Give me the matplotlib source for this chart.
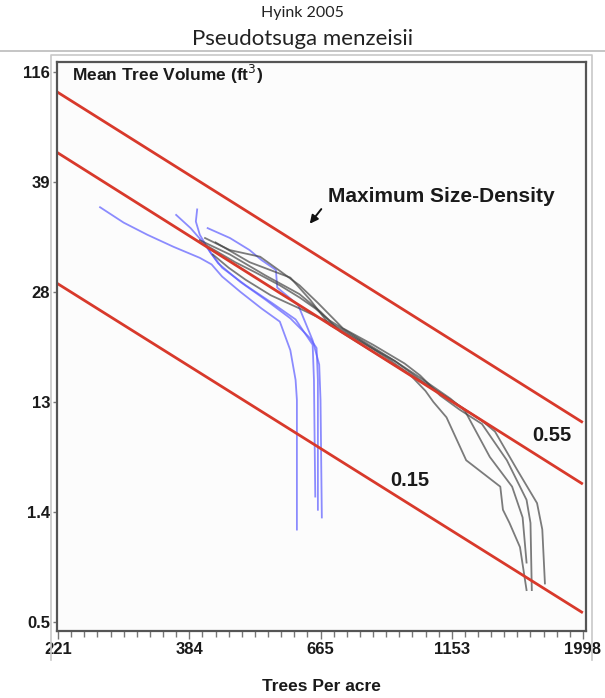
import numpy as np
import matplotlib.pyplot as plt
from matplotlib.lines import Line2D

#------------------------------------------------------------------------------
# Data (x = tick index of trees per acre, y = tick index of mean tree volume)
#------------------------------------------------------------------------------

x_tick_labels = ['221', '384', '665', '1153', '1998']
y_tick_labels = ['0.5', '1.4', '13', '28', '39', '116']

# reference lines (relative density), value at left edge and at 1998
red_x = [-0.01, 3.99]
red_max = [4.82, 1.82]
red_055 = [4.27, 1.26]
red_015 = [3.08, 0.09]

# blue stands
blue1_x = [0.32, 0.50, 0.68, 0.88, 1.08, 1.17, 1.25, 1.39, 1.55, 1.69, 1.77, 1.81, 1.82, 1.82]
blue1_y = [3.77, 3.63, 3.52, 3.41, 3.31, 3.25, 3.14, 3.00, 2.85, 2.73, 2.47, 2.20, 2.02, 0.84]
blue2_x = [0.90, 1.01, 1.12, 1.22, 1.39, 1.58, 1.77, 1.92, 1.97, 1.98, 1.98]
blue2_y = [3.70, 3.58, 3.43, 3.26, 3.09, 2.93, 2.76, 2.58, 2.49, 2.20, 1.02]
blue3_x = [1.06, 1.05, 1.08, 1.16, 1.25, 1.43, 1.63, 1.81, 1.94, 1.95, 1.96]
blue3_y = [3.75, 3.64, 3.52, 3.36, 3.22, 3.06, 2.90, 2.75, 2.52, 2.20, 1.14]
blue4_x = [1.14, 1.31, 1.46, 1.55, 1.66, 1.67, 1.83, 1.94, 1.99, 2.00, 2.01]
blue4_y = [3.58, 3.49, 3.38, 3.29, 3.20, 3.04, 2.88, 2.56, 2.34, 2.02, 0.95]

# gray stands
gray1_x = [1.18, 1.30, 1.43, 1.62, 1.84, 2.07, 2.30, 2.53, 2.68, 2.80, 2.86, 2.96, 3.11, 3.37, 3.39, 3.44, 3.52, 3.57]
gray1_y = [3.34, 3.22, 3.11, 2.97, 2.85, 2.72, 2.56, 2.38, 2.25, 2.10, 2.00, 1.86, 1.47, 1.23, 1.02, 0.90, 0.68, 0.29]
gray2_x = [1.12, 1.35, 1.50, 1.69, 1.84, 1.96, 2.07, 2.30, 2.53, 2.76, 2.99, 3.10, 3.29, 3.46, 3.54, 3.57]
gray2_y = [3.43, 3.27, 3.18, 3.06, 2.95, 2.85, 2.74, 2.57, 2.40, 2.22, 2.03, 1.92, 1.50, 1.23, 0.95, 0.54]
gray3_x = [1.12, 1.31, 1.54, 1.68, 1.84, 1.98, 2.17, 2.40, 2.64, 2.76, 2.91, 3.06, 3.23, 3.42, 3.57, 3.60, 3.61]
gray3_y = [3.49, 3.38, 3.32, 3.20, 3.06, 2.90, 2.67, 2.52, 2.35, 2.24, 2.06, 1.93, 1.80, 1.47, 1.11, 0.90, 0.29]
gray4_x = [1.08, 1.31, 1.58, 1.84, 2.00, 2.15, 2.38, 2.61, 2.83, 3.06, 3.22, 3.33, 3.50, 3.65, 3.69, 3.71]
gray4_y = [3.47, 3.34, 3.15, 2.98, 2.82, 2.64, 2.47, 2.30, 2.14, 1.96, 1.84, 1.73, 1.38, 1.08, 0.84, 0.35]
gray5_x = [1.20, 1.46, 1.77, 1.92, 2.07, 2.30, 2.57, 2.76, 2.99, 3.14, 3.29]
gray5_y = [3.45, 3.27, 3.13, 2.93, 2.70, 2.55, 2.37, 2.20, 2.02, 1.90, 1.78]

#------------------------------------------------------------------------------
# Figure
#------------------------------------------------------------------------------

fig = plt.figure(figsize=(6.05, 6.98), dpi=100)
W, H = 605.0, 698.0

def fx(px):
    return px / W

def fy(py):
    return 1 - py / H

# header
fig.text(0.5, fy(13), 'Hyink 2005', ha='center', va='center', fontsize=11.5,
         family=['Lato', 'DejaVu Sans'], color='#222222')
fig.text(0.5, fy(39), 'Pseudotsuga menzeisii', ha='center', va='center', fontsize=16,
         family=['Lato', 'DejaVu Sans'], color='#222222')
fig.add_artist(Line2D([0, 1], [fy(51), fy(51)], color='#bbbbbb', lw=1.2))

# outer light frame
fig.add_artist(Line2D([fx(51), fx(51), fx(592), fx(592)], [fy(660), fy(55), fy(55), fy(660)],
                      color='#c8c8c8', lw=1.2))

ax = fig.add_axes([fx(57), fy(631), fx(586) - fx(57), fy(62) - fy(631)])
ax.set_facecolor('#fcfcfc')

for x, y in [(blue1_x, blue1_y), (blue2_x, blue2_y), (blue3_x, blue3_y), (blue4_x, blue4_y)]:
    ax.plot(x, y, color='#5c5cff', lw=1.3, alpha=0.7)

for x, y in [(gray1_x, gray1_y), (gray2_x, gray2_y), (gray3_x, gray3_y),
             (gray4_x, gray4_y), (gray5_x, gray5_y)]:
    ax.plot(x, y, color='#444444', lw=1.3, alpha=0.7)

for y in [red_max, red_055, red_015]:
    ax.plot(red_x, y, color='#d8392b', lw=2)

ax.set_xlim(-0.008, 4.023)
ax.set_ylim(-0.082, 5.09)

bold = dict(family=['Liberation Sans', 'DejaVu Sans'], fontweight='bold', color='#1a1a1a')

ax.text(0.107, 4.973, 'Mean Tree Volume (ft$^{3}$)', ha='left', va='center', fontsize=12.5, **bold)
ax.text(2.057, 3.864, 'Maximum Size-Density', ha='left', va='center', fontsize=15, **bold)
ax.text(3.764, 1.691, '0.55', ha='center', va='center', fontsize=14.5, **bold)
ax.text(2.682, 1.282, '0.15', ha='center', va='center', fontsize=14.5, **bold)
ax.annotate('', xy=(1.905, 3.60), xytext=(2.019, 3.773),
            arrowprops=dict(arrowstyle='-|>', color='#111111', lw=1.4, mutation_scale=12))

# axes styling
ax.set_xticks(range(len(x_tick_labels)))
ax.set_xticklabels(x_tick_labels)
ax.set_xticks(np.arange(0, 4.01, 0.1), minor=True)
ax.set_yticks(range(len(y_tick_labels)))
ax.set_yticklabels(y_tick_labels)

for lab in ax.get_xticklabels() + ax.get_yticklabels():
    lab.set_family(['Liberation Sans', 'DejaVu Sans'])
    lab.set_fontweight('bold')
    lab.set_fontsize(12)
    lab.set_color('#1a1a1a')

ax.tick_params(axis='x', which='major', direction='out', length=6, width=1, color='#777777', pad=2)
ax.tick_params(axis='x', which='minor', direction='out', length=4, width=1, color='#777777')
ax.tick_params(axis='y', which='major', direction='out', length=3, width=1, color='#777777', pad=2)

for s in ax.spines.values():
    s.set_color('#555555')
    s.set_linewidth(1.6)

ax.set_xlabel('Trees Per acre', fontsize=12.5, **bold)
ax.xaxis.set_label_coords(0.5, -(679 - 631) / (631 - 62))

fig.savefig('out.png', dpi=100)
